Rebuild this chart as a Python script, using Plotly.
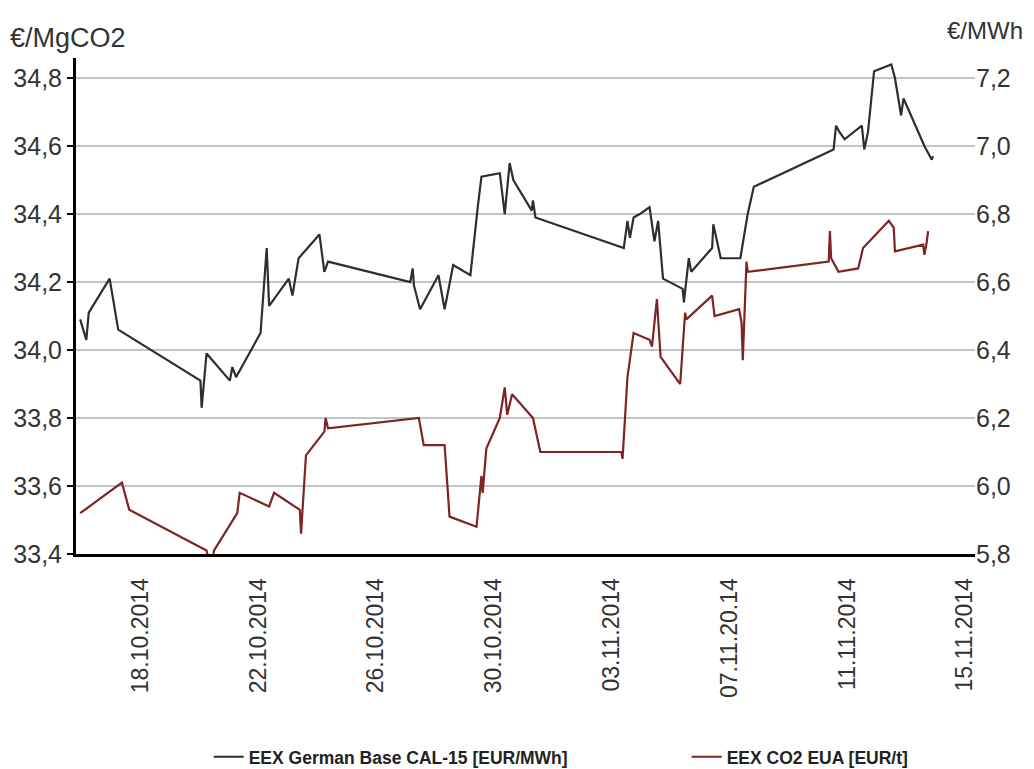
import plotly.graph_objects as go

# ---- data ----
power_dates = [
    "2014-10-15 23:00", "2014-10-16 04:00", "2014-10-16 06:00", "2014-10-16 23:00", "2014-10-17 06:00",
    "2014-10-20 01:00", "2014-10-20 02:00", "2014-10-20 06:00", "2014-10-21 01:00", "2014-10-21 03:00",
    "2014-10-21 06:00", "2014-10-22 02:00", "2014-10-22 07:00", "2014-10-22 09:00", "2014-10-23 01:00",
    "2014-10-23 04:00", "2014-10-23 09:00", "2014-10-24 02:00", "2014-10-24 06:00", "2014-10-24 09:00",
    "2014-10-27 04:00", "2014-10-27 06:00", "2014-10-27 07:00", "2014-10-27 12:00", "2014-10-28 03:00",
    "2014-10-28 08:00", "2014-10-28 15:00", "2014-10-29 05:00", "2014-10-29 11:00", "2014-10-29 14:00",
    "2014-10-30 05:00", "2014-10-30 09:00", "2014-10-30 13:00", "2014-10-30 16:00", "2014-10-31 07:00",
    "2014-10-31 08:00", "2014-10-31 10:00", "2014-11-03 10:00", "2014-11-03 13:00", "2014-11-03 15:00",
    "2014-11-03 18:00", "2014-11-03 23:00", "2014-11-04 07:00", "2014-11-04 11:00", "2014-11-04 14:00",
    "2014-11-04 18:00", "2014-11-05 10:00", "2014-11-05 11:00", "2014-11-05 15:00", "2014-11-05 17:00",
    "2014-11-06 10:00", "2014-11-06 11:00", "2014-11-06 14:00", "2014-11-06 17:00", "2014-11-07 09:00",
    "2014-11-07 12:00", "2014-11-07 15:00", "2014-11-07 20:00", "2014-11-10 13:00", "2014-11-10 15:00",
    "2014-11-10 18:00", "2014-11-10 22:00", "2014-11-11 12:00", "2014-11-11 14:00", "2014-11-11 17:00",
    "2014-11-11 22:00", "2014-11-12 12:00", "2014-11-12 15:00", "2014-11-12 20:00", "2014-11-12 22:00",
    "2014-11-13 15:00", "2014-11-13 21:00", "2014-11-13 22:00",
]
power_values = [
    34.09, 34.03, 34.11, 34.21, 34.06,
    33.91, 33.83, 33.99, 33.91, 33.95,
    33.92, 34.05, 34.30, 34.13, 34.21,
    34.16, 34.27, 34.34, 34.23, 34.26,
    34.20, 34.24, 34.19, 34.12, 34.22,
    34.12, 34.25, 34.22, 34.42, 34.51,
    34.52, 34.40, 34.55, 34.50, 34.41,
    34.44, 34.39, 34.30, 34.38, 34.33,
    34.39, 34.40, 34.42, 34.32, 34.38,
    34.21, 34.18, 34.14, 34.27, 34.23,
    34.30, 34.37, 34.32, 34.27, 34.27,
    34.33, 34.40, 34.48, 34.59, 34.66,
    34.64, 34.62, 34.66, 34.59, 34.64,
    34.82, 34.84, 34.80, 34.69, 34.74,
    34.60, 34.56, 34.57,
]

co2_dates = [
    "2014-10-15 23:00", "2014-10-17 09:00", "2014-10-17 15:00", "2014-10-20 06:00", "2014-10-20 10:00",
    "2014-10-20 12:00", "2014-10-21 07:00", "2014-10-21 09:00", "2014-10-22 09:00", "2014-10-22 13:00",
    "2014-10-23 10:00", "2014-10-23 11:00", "2014-10-23 15:00", "2014-10-24 06:00", "2014-10-24 07:00",
    "2014-10-24 09:00", "2014-10-27 11:00", "2014-10-27 15:00", "2014-10-28 08:00", "2014-10-28 12:00",
    "2014-10-29 10:00", "2014-10-29 14:00", "2014-10-29 15:00", "2014-10-29 18:00", "2014-10-30 05:00",
    "2014-10-30 09:00", "2014-10-30 11:00", "2014-10-30 15:00", "2014-10-31 08:00", "2014-10-31 14:00",
    "2014-11-03 08:00", "2014-11-03 09:00", "2014-11-03 11:00", "2014-11-03 13:00", "2014-11-03 18:00",
    "2014-11-04 07:00", "2014-11-04 09:00", "2014-11-04 12:00", "2014-11-04 13:00", "2014-11-04 16:00",
    "2014-11-05 08:00", "2014-11-05 12:00", "2014-11-05 13:00", "2014-11-06 10:00", "2014-11-06 12:00",
    "2014-11-07 08:00", "2014-11-07 10:00", "2014-11-07 11:00", "2014-11-07 13:00", "2014-11-07 14:00",
    "2014-11-07 15:00", "2014-11-10 09:00", "2014-11-10 10:00", "2014-11-10 11:00", "2014-11-10 17:00",
    "2014-11-11 09:00", "2014-11-11 13:00", "2014-11-12 10:00", "2014-11-12 14:00", "2014-11-12 15:00",
    "2014-11-13 14:00", "2014-11-13 15:00", "2014-11-13 17:00", "2014-11-13 18:00",
]
co2_values = [
    5.92, 6.01, 5.93, 5.81, 5.75,
    5.81, 5.92, 5.98, 5.94, 5.98,
    5.93, 5.86, 6.09, 6.16, 6.20,
    6.17, 6.20, 6.12, 6.12, 5.91,
    5.88, 6.03, 5.98, 6.11, 6.20,
    6.29, 6.21, 6.27, 6.20, 6.10,
    6.10, 6.08, 6.20, 6.32, 6.45,
    6.43, 6.41, 6.52, 6.55, 6.38,
    6.30, 6.51, 6.49, 6.56, 6.50,
    6.52, 6.48, 6.37, 6.54, 6.66,
    6.63, 6.66, 6.75, 6.67, 6.63,
    6.64, 6.70, 6.78, 6.76, 6.69,
    6.71, 6.68, 6.72, 6.75,
]

tick_dates = ["2014-10-18", "2014-10-22", "2014-10-26", "2014-10-30",
              "2014-11-03", "2014-11-07", "2014-11-11", "2014-11-15"]
tick_labels = ["18.10.2014", "22.10.2014", "26.10.2014", "30.10.2014",
               "03.11.2014", "07.11.20.14", "11.11.2014", "15.11.2014"]
left_ticks = [33.4, 33.6, 33.8, 34.0, 34.2, 34.4, 34.6, 34.8]
right_ticks = [5.8, 6.0, 6.2, 6.4, 6.6, 6.8, 7.0, 7.2]

series_names = ["EEX German Base CAL-15 [EUR/MWh]", "EEX CO2 EUA [EUR/t]"]
left_unit = "€/MgCO2"
right_unit = "€/MWh"

# ---- figure ----
FONT = "Liberation Sans, Arial, sans-serif"
TXT = "#333333"
LEG_FONT = dict(family="Liberation Sans Narrow, Arial Narrow, Liberation Sans, sans-serif",
                size=17.5, color="#222222", weight="bold")

fig = go.Figure()
fig.add_trace(go.Scatter(
    x=power_dates, y=power_values, name=series_names[0], mode="lines",
    line=dict(color="#2e2e2e", width=2.2), yaxis="y", legend="legend"))
fig.add_trace(go.Scatter(
    x=co2_dates, y=co2_values, name=series_names[1], mode="lines",
    line=dict(color="#7e2424", width=2.2), yaxis="y2", legend="legend2"))

fig.update_layout(
    width=1026, height=761,
    margin=dict(l=68, r=59, t=50, b=215, autoexpand=False),
    paper_bgcolor="white", plot_bgcolor="white",
    separators=",.",
    font=dict(family=FONT, color=TXT),
    xaxis=dict(
        type="date", range=["2014-10-15 19:36", "2014-11-15 08:14"],
        tickvals=tick_dates, ticktext=tick_labels, tickangle=-90,
        tickfont=dict(size=23, color=TXT), ticklabelstandoff=12,
        showgrid=False, zeroline=False, automargin=False,
        showline=True, linecolor="black", linewidth=3, ticks=""),
    yaxis=dict(
        range=[33.4, 34.859], tickvals=left_ticks, tickformat=".1f",
        tickfont=dict(size=25, color=TXT), automargin=False,
        showgrid=True, gridcolor="#c4c4c4", gridwidth=1.5,
        zeroline=False, showline=True, linecolor="black", linewidth=3,
        ticks="outside", ticklen=6, tickcolor="black", tickwidth=1.5),
    yaxis2=dict(
        range=[5.8, 7.259], tickvals=right_ticks, tickformat=".1f",
        overlaying="y", side="right", automargin=False,
        tickfont=dict(size=25, color=TXT),
        showgrid=False, zeroline=False, showline=False, ticks=""),
    legend=dict(x=0.1476, xanchor="left", y=-0.409, yanchor="middle",
                font=LEG_FONT, bgcolor="rgba(0,0,0,0)"),
    legend2=dict(x=0.6793, xanchor="left", y=-0.409, yanchor="middle",
                 font=LEG_FONT, bgcolor="rgba(0,0,0,0)"),
    showlegend=True,
    annotations=[
        dict(text=left_unit, xref="paper", yref="paper", x=-0.0756, y=1.040,
             xanchor="left", yanchor="middle", showarrow=False,
             font=dict(size=27, color=TXT, family=FONT)),
        dict(text=right_unit, xref="paper", yref="paper", x=1.056, y=1.056,
             xanchor="right", yanchor="middle", showarrow=False,
             font=dict(size=24, color=TXT, family=FONT)),
    ],
)

fig.write_html("out.html")
